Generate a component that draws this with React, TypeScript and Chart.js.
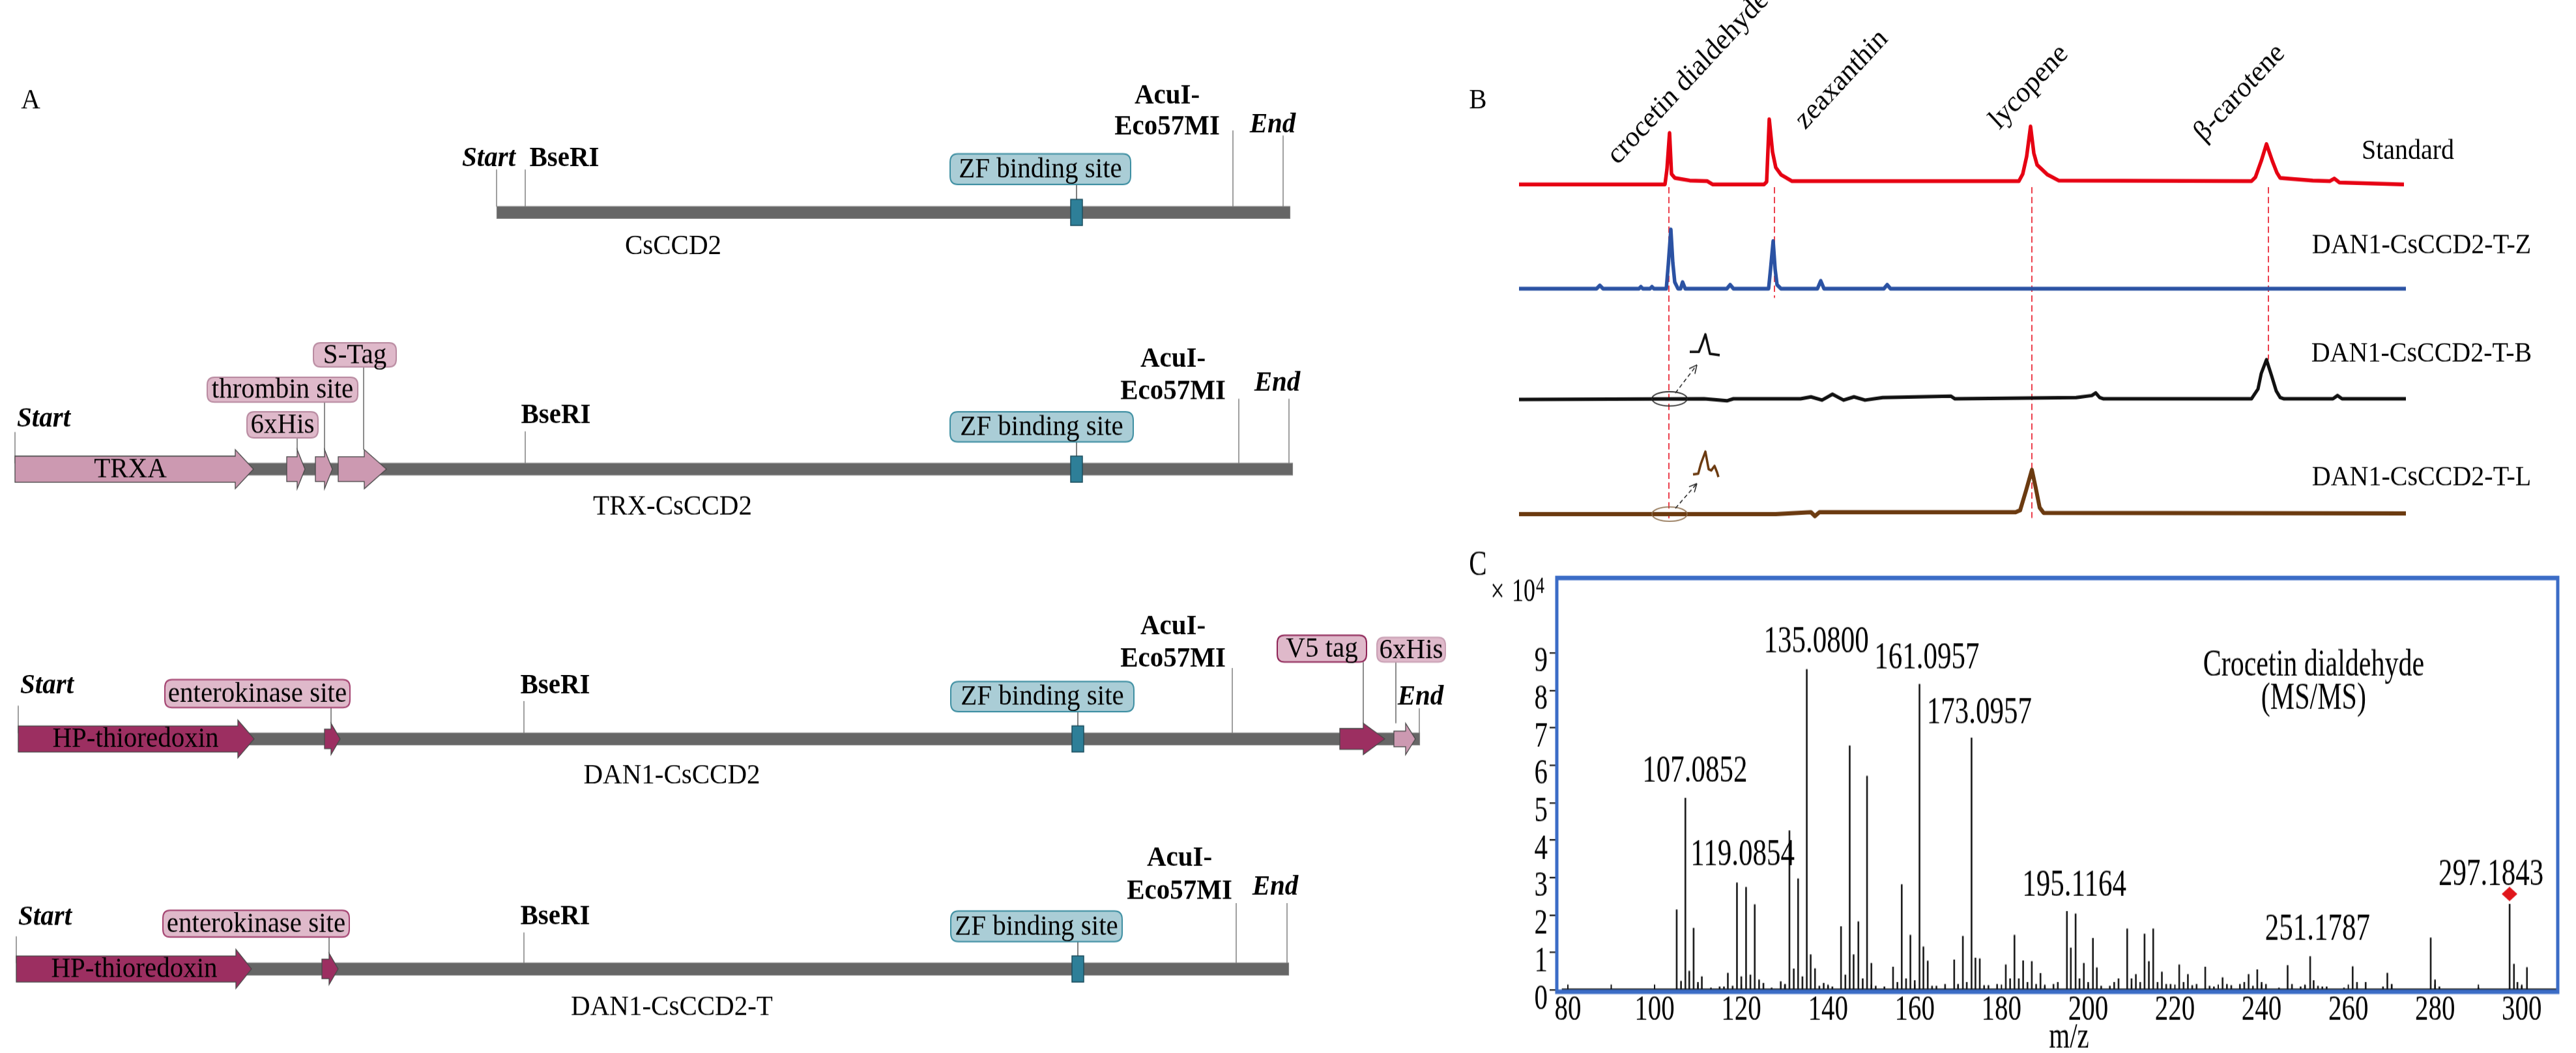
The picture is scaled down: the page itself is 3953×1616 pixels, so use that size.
import React, { useEffect, useRef } from 'react';
import { Chart, registerables } from 'chart.js';

Chart.register(...registerables);

const SERIF = '"Liberation Serif", "Times New Roman", Times, serif';
Chart.defaults.color = '#000';
Chart.defaults.font.family = SERIF;
const font = (size: number, style: string = '') => `${style} ${size}px ${SERIF}`.trim();

/* ================= Panel A : construct maps ================= */
const constructNames = ['CsCCD2', 'TRX-CsCCD2', 'DAN1-CsCCD2', 'DAN1-CsCCD2-T'];
const constructStart = [762, 23, 28, 25];
const constructEnd = [1980, 1984, 2179, 1978];
const startSite = [762, 23, 28, 25];
const bseRISite = [806, 806, 804, 804];
const zfSite = [1652, 1652, 1654, 1654];
const acuISite = [1892, 1901, 1891, 1897];
const endSite = [1969, 1978, 2178, 1975];

const featureNames = ['TRXA', '6xHis', 'thrombin site', 'S-Tag', 'HP-thioredoxin', 'enterokinase site', 'V5 tag', '6xHis', 'HP-thioredoxin', 'enterokinase site'];
const featureRow = [1, 1, 1, 1, 2, 2, 2, 2, 3, 3];
const featureStart = [23, 440, 484, 519, 28, 498, 2056, 2139, 25, 494];
const featureHead = [361, 456, 498, 559, 365, 508, 2092, 2157, 362, 505];
const featureEnd = [389, 468, 510, 593, 390, 522, 2125, 2172, 386, 519];

// layout of panel A (page pixels)
const rowY = [326, 720, 1134, 1487];
const rowNameX = [1033, 1032, 1031, 1031];
const rowNameY = [378, 778, 1191, 1546];
const startLabelX = [750, 67, 72, 69];
const startLabelY = [243, 643, 1053, 1408];
const startLineTop = [260, 663, 1083, 1437];
const bseLabelX = [866, 853, 852, 852];
const bseLabelY = [243, 638, 1053, 1407];
const bseLineTop = [260, 662, 1076, 1431];
const acuLabelX = [1791, 1800, 1800, 1810];
const acuLabelY1 = [147, 551, 962, 1317];
const acuLabelY2 = [195, 601, 1011, 1368];
const acuLineTop = [200, 612, 1025, 1386];
const endLabelX = [1953, 1960, 2180, 1957];
const endLabelY = [192, 588, 1070, 1362];
const endLineTop = [208, 612, 1087, 1386];
const zfBox = [[1458, 1735, 236, 283], [1458, 1739, 632, 678], [1459, 1740, 1046, 1092], [1459, 1722, 1398, 1445]];
const PINK = '#CC99B1';
const PLUM = '#9C2F61';
const featureFill = [PINK, PINK, PINK, PINK, PLUM, PLUM, PLUM, PINK, PLUM, PLUM];
const featureBodyHalf = [20, 19, 19, 19, 20, 15, 16, 12, 20, 15];
const featureHeadHalf = [30, 30, 30, 30, 29, 24, 24, 24, 30, 24];
const featureInnerX = [200, 0, 0, 0, 208, 0, 0, 0, 206, 0];
const calloutBox: (number[] | null)[] = [null, [379, 488, 632, 672], [318, 549, 579, 617], [481, 608, 526, 563], null, [253, 537, 1043, 1086], [1960, 2097, 975, 1016], [2113, 2218, 978, 1016], null, [250, 536, 1397, 1438]];
const calloutLineX = [0, 456, 498, 558, 0, 508, 2092, 2142, 0, 505];
const calloutBorder = ['', '#B98BA1', '#B98BA1', '#B98BA1', '', '#A3416F', '#8E2456', '#C9A0B4', '', '#A3416F'];

/* ================= Panel B : chromatograms ================= */
const traceNames = ['Standard', 'DAN1-CsCCD2-T-Z', 'DAN1-CsCCD2-T-B', 'DAN1-CsCCD2-T-L'];
const compoundNames = ['crocetin dialdehyde', 'zeaxanthin', 'lycopene', 'β-carotene'];
const peakTimes = [2561, 2723, 3118, 3481];

const stdTime = [2331, 2555, 2558, 2562, 2565, 2570, 2593, 2620, 2628, 2707, 2711, 2715, 2720, 2725, 2733, 2750, 3098, 3104, 3110, 3116, 3121, 3126, 3142, 3159, 3455, 3461, 3470, 3478, 3487, 3494, 3499, 3549, 3575, 3582, 3590, 3689];
const stdSignal = [0, 0, 23, 79, 16, 10, 6, 5, 0, 0, 4, 100, 50, 26, 15, 5, 5, 16, 43, 89, 48, 30, 15, 6, 5, 11, 36, 62, 36, 18, 10, 6, 5, 9, 3, 0];
const zTime = [2331, 2450, 2455, 2460, 2515, 2518, 2521, 2532, 2535, 2538, 2557, 2560, 2564, 2567, 2570, 2575, 2579, 2582, 2586, 2650, 2655, 2660, 2714, 2717, 2721, 2724, 2727, 2733, 2789, 2794, 2799, 2891, 2896, 2901, 3692];
const zSignal = [0, 0, 5, 0, 0, 3, 0, 0, 3, 0, 0, 36, 91, 40, 10, 0, 0, 10, 0, 0, 6, 0, 0, 30, 73, 30, 6, 0, 0, 12, 0, 0, 6, 0, 0];
const bTime = [2331, 2615, 2650, 2660, 2763, 2779, 2796, 2812, 2829, 2845, 2862, 2889, 2994, 3000, 3186, 3210, 3216, 3222, 3228, 3455, 3465, 3470, 3478, 3486, 3493, 3499, 3505, 3580, 3587, 3594, 3692];
const bSignal = [-1, 0, -3, 0, 0, 3, -2, 7, -2, 3, -2, 2, 4, 0, 2, 5, 9, 2, 0, 0, 15, 39, 60, 35, 12, 2, 0, 0, 5, 0, 0];
const lTime = [2331, 2725, 2779, 2785, 2792, 2801, 3093, 3100, 3109, 3118, 3124, 3130, 3136, 3692];
const lSignal = [0, 0, 3, -3, 3, 3, 3, 6, 36, 68, 40, 10, 2, 1];
const insetBTime = [2593, 2607, 2611, 2617, 2621, 2624, 2639];
const insetBSignal = [3, 3, 13, 30, 13, 0, -2];
const insetLTime = [2598, 2606, 2610, 2617, 2622, 2626, 2631, 2635, 2637];
const insetLSignal = [0, 1, 16, 35, 8, 6, 13, 3, -4];

// layout of panel B (page pixels)
const traceBaseline = [283, 443, 612, 789];
const insetBaseline = [543, 728];
const traceColors = ['#E60012', '#2B52A3', '#111111', '#6B3A10'];
const traceLabelX = [3695, 3716, 3716, 3716];
const traceLabelY = [233, 377, 543, 733];
const compoundLabelX = [2482, 2770, 3068, 3382];
const compoundLabelY = [254, 200, 200, 219];
const dashTop = 287;
const dashBottom = [800, 457, 795, 552];
const zoomCircleY = [612, 789];
const zoomCircleColor = ['#222222', '#8A6A48'];

/* ================= Panel C : MS/MS spectrum ================= */
const msMz = [
  105.1, 106.1, 107.1, 108.0, 109.0, 110.0, 110.9, 113.0, 115.0, 116.0,
  116.9, 118.0, 119.0, 120.0, 121.1, 122.1, 123.1, 124.1, 125.1, 127.0,
  129.1, 130.1, 131.1, 132.1, 133.1, 134.1, 135.1, 136.0, 137.0, 138.0,
  139.0, 140.0, 141.0, 143.0, 144.0, 145.0, 145.9, 147.0, 148.0, 149.0,
  150.0, 151.0, 153.0, 155.0, 156.0, 157.0, 158.0, 159.0, 160.0, 161.1,
  162.0, 163.0, 164.0, 165.0, 167.0, 169.1, 170.0, 171.1, 172.0, 173.1,
  174.0, 175.0, 176.0, 177.0, 179.0, 181.0, 182.0, 183.0, 184.0, 185.0,
  186.0, 187.0, 188.0, 189.0, 190.0, 192.0, 193.0, 195.1, 196.0, 197.1,
  198.0, 199.0, 200.0, 201.1, 202.0, 203.0, 205.0, 206.0, 207.0, 209.0,
  210.0, 211.0, 212.0, 213.0, 214.0, 215.0, 216.0, 217.0, 218.0, 219.0,
  221.0, 222.0, 223.0, 224.0, 225.0, 227.0, 228.0, 229.0, 231.0, 232.0,
  233.0, 235.0, 236.0, 237.0, 238.0, 239.0, 240.0, 241.0, 244.0, 246.0,
  247.0, 249.0, 250.0, 251.2, 252.0, 253.0, 254.0, 255.0, 259.0, 261.0,
  262.0, 264.0, 268.0, 269.0, 270.0, 279.0, 280.0, 281.0, 290.0, 297.2,
  298.2, 299.0, 300.0, 301.2,
];
const msIntensity = [
  2.14, 0.23, 5.12, 0.50, 1.65, 0.20, 0.35, 0.05, 0.08, 0.08,
  0.45, 0.10, 2.86, 0.35, 2.74, 0.40, 2.28, 0.27, 0.18, 0.05,
  0.22, 0.15, 4.25, 0.56, 2.97, 0.35, 8.56, 0.94, 0.57, 0.10,
  0.18, 0.10, 0.08, 1.69, 0.40, 6.52, 0.94, 1.82, 0.30, 5.71,
  0.71, 0.10, 0.08, 0.61, 0.20, 2.81, 0.30, 1.46, 0.25, 8.16,
  1.15, 0.77, 0.10, 0.10, 0.15, 0.80, 0.15, 1.43, 0.20, 6.73,
  0.85, 0.83, 0.12, 0.12, 0.15, 0.67, 0.30, 1.46, 0.30, 0.78,
  0.20, 0.76, 0.15, 0.44, 0.10, 0.15, 0.20, 2.10, 1.12, 2.03,
  0.30, 0.71, 0.20, 1.38, 0.59, 0.10, 0.10, 0.20, 0.30, 1.63,
  0.30, 0.41, 0.20, 1.49, 0.76, 1.63, 0.20, 0.48, 0.15, 0.15,
  0.67, 0.20, 0.41, 0.12, 0.15, 0.61, 0.10, 0.08, 0.33, 0.15,
  0.12, 0.15, 0.20, 0.41, 0.10, 0.54, 0.20, 0.15, 0.05, 0.65,
  0.15, 0.08, 0.12, 0.89, 0.25, 0.10, 0.08, 0.08, 0.05, 0.62,
  0.20, 0.20, 0.08, 0.45, 0.15, 1.39, 0.27, 0.08, 0.05, 2.29,
  0.69, 0.20, 0.10, 0.60,
];
const msXTicks = [80, 100, 120, 140, 160, 180, 200, 220, 240, 260, 280, 300];
const msMinorTicks = [80, 90, 100, 110, 120, 130, 140, 150, 160, 170, 180, 190, 200, 210, 220, 230, 240, 250, 260, 270, 280, 290, 300];
const msYTicks = [0, 1, 2, 3, 4, 5, 6, 7, 8, 9];
const peakLabels = ['107.0852', '119.0854', '135.0800', '161.0957', '173.0957', '195.1164', '251.1787', '297.1843'];
const peakLabelMz = [109.3, 120.3, 137.3, 162.8, 174.9, 196.8, 252.9, 292.9];
const peakLabelI = [5.83, 3.59, 9.29, 8.85, 7.40, 2.78, 1.61, 3.07];
const precursorMz = 297.18;
const precursorMarkI = 2.56;

/* ================= helpers ================= */
function roundBox(ctx: any, x0: number, y0: number, x1: number, y1: number, r: number) {
  ctx.beginPath();
  ctx.moveTo(x0 + r, y0);
  ctx.lineTo(x1 - r, y0);
  ctx.quadraticCurveTo(x1, y0, x1, y0 + r);
  ctx.lineTo(x1, y1 - r);
  ctx.quadraticCurveTo(x1, y1, x1 - r, y1);
  ctx.lineTo(x0 + r, y1);
  ctx.quadraticCurveTo(x0, y1, x0, y1 - r);
  ctx.lineTo(x0, y0 + r);
  ctx.quadraticCurveTo(x0, y0, x0 + r, y0);
  ctx.closePath();
}

const baseOptions = {
  responsive: false,
  animation: false,
  events: [],
  plugins: { legend: { display: false }, tooltip: { enabled: false } },
};

/* ---------- Panel A config ---------- */
function makeMapConfig() {
  const mapDecor = {
    id: 'mapDecor',
    afterDatasetsDraw(chart: any) {
      const { ctx, scales } = chart;
      const X = (v: number) => scales.x.getPixelForValue(v);
      const Y = (v: number) => scales.y.getPixelForValue(v);
      ctx.save();
      ctx.textAlign = 'center';
      ctx.textBaseline = 'middle';
      ctx.fillStyle = '#000';
      ctx.font = font(41);
      ctx.fillText('A', X(47), Y(155));

      const siteLine = (x: number, top: number, r: number) => {
        ctx.strokeStyle = '#808080';
        ctx.lineWidth = 1.5;
        ctx.beginPath();
        ctx.moveTo(X(x), Y(top));
        ctx.lineTo(X(x), Y(rowY[r] - 9));
        ctx.stroke();
      };

      for (let r = 0; r < 4; r++) {
        siteLine(startSite[r], startLineTop[r], r);
        siteLine(bseRISite[r], bseLineTop[r], r);
        siteLine(acuISite[r], acuLineTop[r], r);
        siteLine(endSite[r], endLineTop[r], r);
        ctx.fillStyle = '#000';
        ctx.font = font(41, 'italic bold');
        ctx.fillText('Start', X(startLabelX[r]), Y(startLabelY[r]));
        ctx.fillText('End', X(endLabelX[r]), Y(endLabelY[r]));
        ctx.font = font(41, 'bold');
        ctx.fillText('BseRI', X(bseLabelX[r]), Y(bseLabelY[r]));
        ctx.fillText('AcuI-', X(acuLabelX[r]), Y(acuLabelY1[r]));
        ctx.fillText('Eco57MI', X(acuLabelX[r]), Y(acuLabelY2[r]));

        // ZF binding site callout and marker
        const b = zfBox[r];
        ctx.strokeStyle = '#555';
        ctx.lineWidth = 1.5;
        ctx.beginPath();
        ctx.moveTo(X(zfSite[r]), Y(b[3]));
        ctx.lineTo(X(zfSite[r]), Y(rowY[r] - 20));
        ctx.stroke();
        roundBox(ctx, X(b[0]), Y(b[2]), X(b[1]), Y(b[3]), 12);
        ctx.fillStyle = '#AACDD6';
        ctx.fill();
        ctx.strokeStyle = '#3E8FA2';
        ctx.lineWidth = 2;
        ctx.stroke();
        ctx.fillStyle = '#000';
        ctx.font = font(41);
        ctx.fillText('ZF binding site', X((b[0] + b[1]) / 2), Y((b[2] + b[3]) / 2 + 1));
        ctx.fillStyle = '#2E7F98';
        ctx.fillRect(X(zfSite[r] - 9), Y(rowY[r] - 20), X(zfSite[r] + 9) - X(zfSite[r] - 9), Y(rowY[r] + 20) - Y(rowY[r] - 20));
        ctx.strokeStyle = '#1D4F5F';
        ctx.lineWidth = 1.5;
        ctx.strokeRect(X(zfSite[r] - 9), Y(rowY[r] - 20), X(zfSite[r] + 9) - X(zfSite[r] - 9), Y(rowY[r] + 20) - Y(rowY[r] - 20));

        ctx.fillStyle = '#000';
        ctx.font = font(41);
        ctx.fillText(constructNames[r], X(rowNameX[r]), Y(rowNameY[r]));
      }

      for (let i = 0; i < featureNames.length; i++) {
        const yc = rowY[featureRow[i]];
        const bh = featureBodyHalf[i];
        const hh = featureHeadHalf[i];
        const box = calloutBox[i];
        if (box) {
          ctx.strokeStyle = '#666';
          ctx.lineWidth = 1.5;
          ctx.beginPath();
          ctx.moveTo(X(calloutLineX[i]), Y(box[3]));
          ctx.lineTo(X(calloutLineX[i]), Y(yc - hh));
          ctx.stroke();
        }
        ctx.beginPath();
        ctx.moveTo(X(featureStart[i]), Y(yc - bh));
        ctx.lineTo(X(featureHead[i]), Y(yc - bh));
        ctx.lineTo(X(featureHead[i]), Y(yc - hh));
        ctx.lineTo(X(featureEnd[i]), Y(yc));
        ctx.lineTo(X(featureHead[i]), Y(yc + hh));
        ctx.lineTo(X(featureHead[i]), Y(yc + bh));
        ctx.lineTo(X(featureStart[i]), Y(yc + bh));
        ctx.closePath();
        ctx.fillStyle = featureFill[i];
        ctx.fill();
        ctx.strokeStyle = '#4A4A4A';
        ctx.lineWidth = 1.3;
        ctx.stroke();
        ctx.fillStyle = '#000';
        ctx.font = font(41);
        if (!box) {
          ctx.fillText(featureNames[i], X(featureInnerX[i]), Y(yc + 1));
        } else {
          roundBox(ctx, X(box[0]), Y(box[2]), X(box[1]), Y(box[3]), 11);
          ctx.fillStyle = '#DFB9CA';
          ctx.fill();
          ctx.strokeStyle = calloutBorder[i];
          ctx.lineWidth = 2;
          ctx.stroke();
          ctx.fillStyle = '#000';
          ctx.fillText(featureNames[i], X((box[0] + box[1]) / 2), Y((box[2] + box[3]) / 2 + 1));
        }
      }
      ctx.restore();
    },
  };
  return {
    type: 'bar',
    data: {
      datasets: [{
        data: constructNames.map((_, i) => ({ y: rowY[i], x: [constructStart[i], constructEnd[i]] })),
        backgroundColor: '#666666',
        borderColor: '#8C8C8C',
        borderWidth: 1,
        borderSkipped: false,
        barThickness: 18,
      }],
    },
    options: {
      ...baseOptions,
      indexAxis: 'y',
      layout: { padding: 0 },
      scales: {
        x: { type: 'linear', min: 0, max: 2230, display: false, offset: false },
        y: { type: 'linear', min: 0, max: 1616, reverse: true, display: false, offset: false },
      },
    },
    plugins: [mapDecor],
  };
}

/* ---------- Panel B config ---------- */
function makeChromConfig() {
  const mk = (time: number[], sig: number[], base: number) => time.map((t, i) => ({ x: t, y: base - sig[i] }));
  const ds = (data: any[], color: string, width: number, dash: number[] = []) => ({
    data, borderColor: color, borderWidth: width, pointRadius: 0, fill: false, tension: 0,
    borderJoinStyle: 'round', borderDash: dash,
  });
  const chromDecor = {
    id: 'chromDecor',
    afterDatasetsDraw(chart: any) {
      const { ctx, scales } = chart;
      const X = (v: number) => scales.x.getPixelForValue(v);
      const Y = (v: number) => scales.y.getPixelForValue(v);
      ctx.save();
      ctx.fillStyle = '#000';
      ctx.textAlign = 'center';
      ctx.textBaseline = 'middle';
      ctx.font = font(41);
      ctx.fillText('B', X(2268), Y(155));
      ctx.font = font(40);
      traceNames.forEach((n, i) => ctx.fillText(n, X(traceLabelX[i]), Y(traceLabelY[i])));
      ctx.font = font(42);
      ctx.textAlign = 'left';
      ctx.textBaseline = 'alphabetic';
      compoundNames.forEach((n, i) => {
        ctx.save();
        ctx.translate(X(compoundLabelX[i]), Y(compoundLabelY[i]));
        ctx.rotate(-Math.PI / 4);
        ctx.fillText(n, 0, 0);
        ctx.restore();
      });
      // zoom circles and dashed arrows to insets
      zoomCircleY.forEach((cy, i) => {
        ctx.strokeStyle = zoomCircleColor[i];
        ctx.lineWidth = 1.6;
        ctx.beginPath();
        ctx.ellipse(X(peakTimes[0] + 1), Y(cy), 27, Y(cy + 11) - Y(cy), 0, 0, Math.PI * 2);
        ctx.stroke();
        const bx = X(peakTimes[0] + 10), by = Y(cy - 9);
        const ax = X(peakTimes[0] + 43), ay = Y(cy - (i === 0 ? 52 : 47));
        ctx.strokeStyle = '#222';
        ctx.lineWidth = 1.5;
        ctx.setLineDash([6, 4]);
        ctx.beginPath();
        ctx.moveTo(bx, by);
        ctx.lineTo(ax, ay);
        ctx.stroke();
        ctx.setLineDash([]);
        const ang = Math.atan2(ay - by, ax - bx);
        ctx.beginPath();
        for (const d of [-0.45, 0.45]) {
          ctx.moveTo(ax, ay);
          ctx.lineTo(ax - 13 * Math.cos(ang + d), ay - 13 * Math.sin(ang + d));
        }
        ctx.stroke();
      });
      ctx.restore();
    },
  };
  const datasets = [
    ds(mk(stdTime, stdSignal, traceBaseline[0]), traceColors[0], 5.5),
    ds(mk(zTime, zSignal, traceBaseline[1]), traceColors[1], 5.5),
    ds(mk(bTime, bSignal, traceBaseline[2]), traceColors[2], 5),
    ds(mk(lTime, lSignal, traceBaseline[3]), traceColors[3], 6),
    ds(mk(insetBTime, insetBSignal, insetBaseline[0]), traceColors[2], 3.5),
    ds(mk(insetLTime, insetLSignal, insetBaseline[1]), traceColors[3], 3.5),
    ...peakTimes.map((t, i) => ds([{ x: t, y: dashTop }, { x: t, y: dashBottom[i] }], '#E60012', 1.5, [9, 5])),
  ];
  return {
    type: 'line',
    data: { datasets },
    options: {
      ...baseOptions,
      layout: { padding: 0 },
      scales: {
        x: { type: 'linear', min: 2230, max: 3953, display: false },
        y: { type: 'linear', min: 0, max: 830, reverse: true, display: false },
      },
    },
    plugins: [chromDecor],
  };
}

/* ---------- Panel C config ---------- */
function makeMsConfig(s: number) {
  const PAGE_TOP = 830;
  const IH = 570;
  const toY = (pageY: number) => (pageY - PAGE_TOP) / s;
  const toX = (pageX: number) => pageX - 2230;
  const caLeft = 159;
  const caRight = 1695;
  const caTop = toY(887);
  const caBottom = toY(1522);
  const msDecor = {
    id: 'msDecor',
    afterDatasetsDraw(chart: any) {
      const { ctx, chartArea: ca, scales } = chart;
      const X = (v: number) => scales.x.getPixelForValue(v);
      const Y = (v: number) => scales.y.getPixelForValue(v);
      ctx.save();
      const y0 = Y(0);
      ctx.strokeStyle = '#111';
      ctx.lineWidth = 3;
      ctx.beginPath();
      ctx.moveTo(X(78.6), y0);
      ctx.lineTo(ca.right, y0);
      ctx.stroke();
      ctx.lineWidth = 2;
      ctx.beginPath();
      msMinorTicks.forEach((v) => {
        ctx.moveTo(X(v), y0);
        ctx.lineTo(X(v), y0 - 6);
      });
      ctx.stroke();
      // precursor marker
      const dx = X(precursorMz), dy = Y(precursorMarkI);
      ctx.fillStyle = '#E0161B';
      ctx.beginPath();
      ctx.moveTo(dx, dy - 11 / s);
      ctx.lineTo(dx + 12, dy);
      ctx.lineTo(dx, dy + 11 / s);
      ctx.lineTo(dx - 12, dy);
      ctx.closePath();
      ctx.fill();
      // peak labels
      ctx.fillStyle = '#000';
      ctx.textAlign = 'center';
      ctx.textBaseline = 'middle';
      ctx.font = font(43);
      peakLabels.forEach((t, i) => ctx.fillText(t, X(peakLabelMz[i]), Y(peakLabelI[i])));
      ctx.font = font(42);
      ctx.fillText('Crocetin dialdehyde', X(252.0), Y(8.66));
      ctx.fillText('(MS/MS)', X(252.0), Y(7.78));
      ctx.restore();
    },
    afterDraw(chart: any) {
      const { ctx, chartArea: ca } = chart;
      ctx.save();
      ctx.strokeStyle = '#3B6CC6';
      ctx.lineWidth = 5;
      ctx.strokeRect(ca.left, ca.top, ca.right - ca.left, ca.bottom - ca.top);
      ctx.fillStyle = '#000';
      ctx.textAlign = 'center';
      ctx.textBaseline = 'middle';
      ctx.font = font(41);
      ctx.fillText('C', toX(2268), toY(868));
      ctx.fillText('m/z', toX(3175), toY(1593));
      ctx.font = font(38);
      ctx.fillText('×', toX(2298), toY(910));
      ctx.textAlign = 'left';
      ctx.font = font(36);
      ctx.fillText('10', toX(2320), toY(910));
      ctx.font = font(26);
      ctx.fillText('4', toX(2357), toY(901));
      ctx.restore();
    },
  };
  const tickFont = { family: SERIF, size: 41, lineHeight: 1 };
  return {
    type: 'bar',
    data: {
      datasets: [{
        data: msMz.map((m, i) => ({ x: m, y: msIntensity[i] })),
        backgroundColor: '#1E1E1E',
        barThickness: 2,
      }],
    },
    options: {
      ...baseOptions,
      layout: { padding: { left: 0, right: 1723 - caRight, top: caTop, bottom: 0 } },
      scales: {
        x: {
          type: 'linear', min: 77.45, max: 308.3, offset: false,
          afterBuildTicks: (sc: any) => { sc.ticks = msXTicks.map((v) => ({ value: v })); },
          afterFit: (sc: any) => { sc.height = IH - caBottom; },
          grid: { display: false, drawTicks: false },
          border: { display: false },
          ticks: { font: tickFont, color: '#000', padding: 0, maxRotation: 0, autoSkip: false },
        },
        y: {
          type: 'linear', min: -0.05, max: 11,
          afterBuildTicks: (sc: any) => { sc.ticks = msYTicks.map((v) => ({ value: v })); },
          afterFit: (sc: any) => { sc.width = caLeft; },
          grid: { drawOnChartArea: false, tickLength: 11, color: '#000', lineWidth: 1.5 },
          border: { display: false },
          ticks: { font: tickFont, color: '#000', padding: 3, labelOffset: 10, autoSkip: false },
        },
      },
    },
    plugins: [msDecor],
  };
}

/* ================= React ================= */
function ChartPanel({ left, top, width, height, innerHeight, make }: any) {
  const ref = useRef<HTMLCanvasElement | null>(null);
  useEffect(() => {
    if (!ref.current) return;
    const chart = new Chart(ref.current, make(height / innerHeight) as any);
    return () => chart.destroy();
  }, []);
  return (
    <canvas
      ref={ref}
      width={width}
      height={innerHeight}
      style={{
        position: 'absolute', left, top, width: `${width}px`, height: `${innerHeight}px`,
        transform: `scaleY(${height / innerHeight})`, transformOrigin: '0 0', display: 'block',
      }}
    />
  );
}

export default function App() {
  return (
    <div style={{ position: 'absolute', left: 0, top: 0, width: 3953, height: 1616, background: '#fff', overflow: 'hidden' }}>
      <ChartPanel left={0} top={0} width={2230} height={1616} innerHeight={1496} make={makeMapConfig} />
      <ChartPanel left={2230} top={0} width={1723} height={830} innerHeight={769} make={makeChromConfig} />
      <ChartPanel left={2230} top={830} width={1723} height={786} innerHeight={570} make={makeMsConfig} />
    </div>
  );
}
